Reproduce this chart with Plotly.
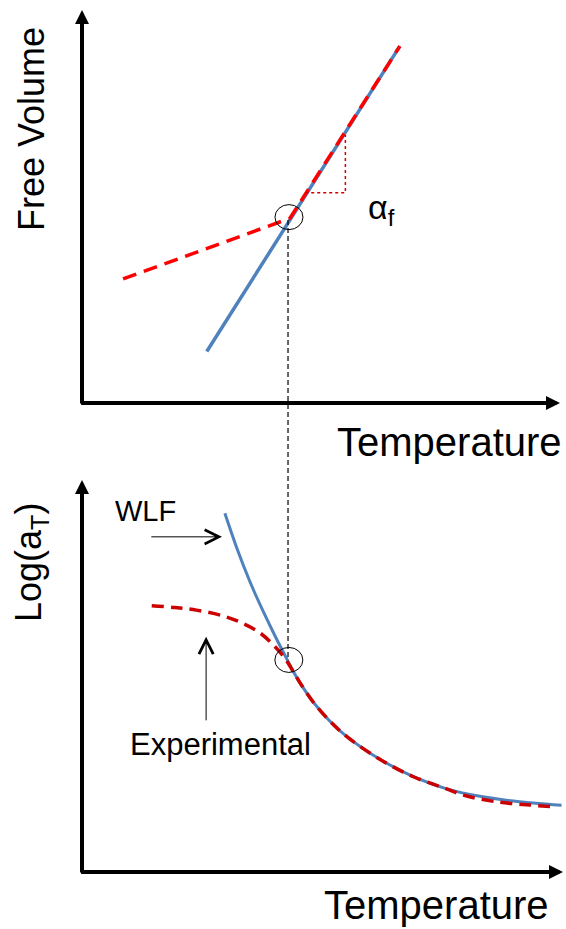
import plotly.graph_objects as go

# ---------------- data (arbitrary units, 0..10 on each axis) ----------------
# Top panel: free volume vs temperature
fv_blue_x = [2.61, 6.65]
fv_blue_y = [1.31, 9.08]
fv_red_x = [0.86, 4.35, 6.65]
fv_red_y = [3.16, 4.70, 9.08]
slope_x = [4.67, 5.51, 5.51]
slope_y = [5.35, 5.35, 6.82]
tg_top = (4.33, 4.73)

# Bottom panel: log(aT) vs temperature
wlf_x = [2.97, 3.22, 3.49, 3.77, 4.05, 4.26, 4.39, 4.53, 4.81, 5.16, 5.50, 6.20, 6.89, 7.58, 8.27, 8.97, 9.97]
wlf_y = [9.15, 8.26, 7.41, 6.64, 5.93, 5.43, 5.12, 4.83, 4.33, 3.84, 3.46, 2.87, 2.43, 2.12, 1.93, 1.81, 1.70]
exp_x = [1.45, 1.90, 2.38, 2.94, 3.35, 3.70, 3.98, 4.19, 4.39, 4.53, 4.81, 5.16, 5.50, 6.20, 6.89, 7.58, 7.93, 8.62, 9.31, 9.73]
exp_y = [6.79, 6.75, 6.68, 6.53, 6.34, 6.10, 5.79, 5.50, 5.12, 4.83, 4.33, 3.84, 3.46, 2.87, 2.43, 2.12, 1.96, 1.79, 1.71, 1.67]
tg_bot = (4.30, 5.41)

W, H = 566, 929
FONT = "Arial, Liberation Sans, sans-serif"
BLUE = "#4F81BD"
RED = "#FF0000"
DRED = "#CC0000"

fig = go.Figure()

fig.add_trace(go.Scatter(x=fv_blue_x, y=fv_blue_y, mode="lines",
                         line=dict(color=BLUE, width=3.5), xaxis="x", yaxis="y"))
fig.add_trace(go.Scatter(x=fv_red_x, y=fv_red_y, mode="lines",
                         line=dict(color=RED, width=3.5, dash="14px,8px"), xaxis="x", yaxis="y"))
fig.add_trace(go.Scatter(x=slope_x, y=slope_y, mode="lines",
                         line=dict(color="#D00000", width=1.5, dash="dot"), xaxis="x", yaxis="y"))

fig.add_trace(go.Scatter(x=wlf_x, y=wlf_y, mode="lines", line_shape="spline",
                         line=dict(color=BLUE, width=3), xaxis="x2", yaxis="y2"))
fig.add_trace(go.Scatter(x=exp_x, y=exp_y, mode="lines", line_shape="spline",
                         line=dict(color=DRED, width=3.5, dash="12px,7px"), xaxis="x2", yaxis="y2"))

ax_common = dict(visible=False, range=[0, 10], fixedrange=True)
fig.update_layout(
    width=W, height=H, margin=dict(l=0, r=0, t=0, b=0),
    paper_bgcolor="white", plot_bgcolor="white", showlegend=False,
    xaxis=dict(domain=[82 / W, 560 / W], anchor="y", **ax_common),
    yaxis=dict(domain=[1 - 403 / H, 1 - 10 / H], anchor="x", **ax_common),
    xaxis2=dict(domain=[82 / W, 563 / W], anchor="y2", **ax_common),
    yaxis2=dict(domain=[1 - 872 / H, 1 - 480 / H], anchor="x2", **ax_common),
)

ann = []
# axis arrows
for xr, yr in (("x", "y"), ("x2", "y2")):
    ann.append(dict(x=0, y=10, ax=0, ay=-0.05, xref=xr, yref=yr, axref=xr, ayref=yr,
                    text="", showarrow=True, arrowhead=2, arrowsize=0.7, arrowwidth=4,
                    arrowcolor="black"))
    ann.append(dict(x=10, y=0, ax=-0.05, ay=0, xref=xr, yref=yr, axref=xr, ayref=yr,
                    text="", showarrow=True, arrowhead=2, arrowsize=0.7, arrowwidth=4,
                    arrowcolor="black"))
# pointer arrows
ann.append(dict(x=2.91, y=8.55, ax=1.41, ay=8.55, xref="x2", yref="y2", axref="x2", ayref="y2",
                text="", showarrow=True, arrowhead=5, arrowsize=2.8, arrowwidth=1, arrowcolor="black"))
ann.append(dict(x=2.58, y=6.00, ax=2.58, ay=3.83, xref="x2", yref="y2", axref="x2", ayref="y2",
                text="", showarrow=True, arrowhead=5, arrowsize=2.8, arrowwidth=1, arrowcolor="black"))

def label(text, px, py, size, angle=0):
    return dict(text=text, x=px / W, y=1 - py / H, xref="paper", yref="paper",
                xanchor="center", yanchor="middle", showarrow=False, textangle=angle,
                font=dict(family=FONT, size=size, color="black"))

ann.append(label("Free Volume", 31, 129, 36, -90))
ann.append(label("Temperature", 449, 442, 40))
ann.append(label("Log(a<sub>T</sub>)", 31, 563, 36, -90))
ann.append(label("Temperature", 436, 905, 40))
ann.append(label("α<sub>f</sub>", 381, 209, 34))
ann.append(label("WLF", 145, 511, 29))
ann.append(label("Experimental", 220, 744, 31))
fig.update_layout(annotations=ann)

shapes = []
for (cx, cy), xr, yr in ((tg_top, "x", "y"), (tg_bot, "x2", "y2")):
    shapes.append(dict(type="circle", xref=xr, yref=yr, xsizemode="pixel", ysizemode="pixel",
                       xanchor=cx, yanchor=cy, x0=-14, x1=14, y0=-12.5, y1=12.5,
                       line=dict(color="black", width=1)))
shapes.append(dict(type="line", xref="x", yref="paper", x0=4.31, x1=4.31,
                   y0=1 - 657 / H, y1=1 - 217 / H,
                   line=dict(color="black", width=1.2, dash="5px,3px")))
fig.update_layout(shapes=shapes)

fig.write_html("out.html")
